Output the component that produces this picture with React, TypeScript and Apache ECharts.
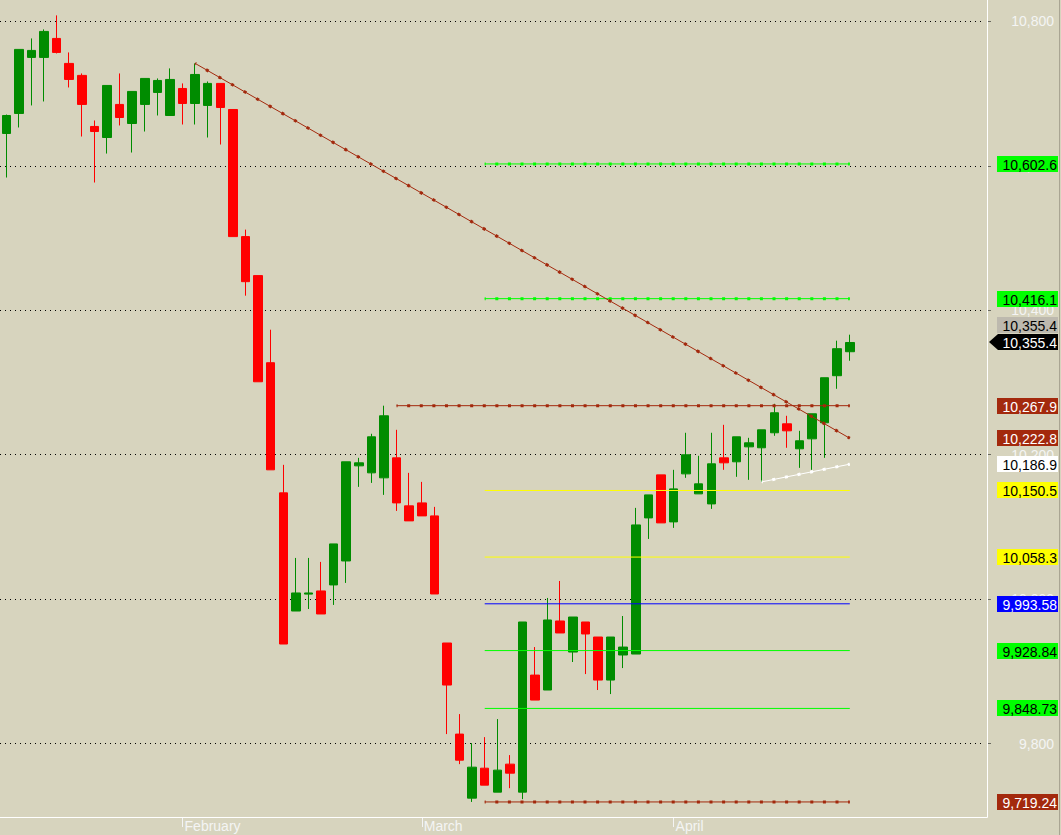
import React, { useEffect, useRef } from "react";
import * as echarts from "echarts";

const monthNames = ["February", "March", "April"];
const monthStartIndex = [14, 33, 53];
const slotCount = 78;
const categories = Array.from({ length: slotCount }, (_, i) => {
  const k = monthStartIndex.indexOf(i);
  return k >= 0 ? monthNames[k] : String(i);
});

const opens = [
  10644.8, 10672.5, 10750.1, 10750.1, 10776.4, 10741.8, 10725.2, 10654.5, 10639.2, 10685.0,
  10658.6, 10685.0, 10701.6, 10669.7, 10707.1, 10686.3, 10683.6, 10714.1, 10678.0, 10502.0,
  10448.0, 10327.4, 10147.2, 9983.6, 10007.0, 10011.4, 10019.7, 10052.9, 10184.6, 10174.9,
  10168.0, 10195.7, 10129.2, 10133.3, 10115.3, 9939.3, 9813.2, 9724.5, 9766.0, 9732.8,
  9771.6, 9732.8, 9894.9, 9874.2, 9969.8, 9926.8, 9968.4, 9947.6, 9888.0, 9922.7,
  9924.0, 10112.5, 10172.1, 10107.0, 10173.5, 10145.8, 10131.9, 10195.7, 10190.2, 10210.9,
  10209.6, 10230.4, 10242.8, 10208.2, 10222.0, 10244.2, 10309.4, 10342.6,
];
const closes = [
  10669.7, 10761.2, 10759.8, 10786.1, 10757.0, 10719.6, 10685.0, 10647.5, 10711.3, 10666.9,
  10703.0, 10721.0, 10718.2, 10719.6, 10686.3, 10726.5, 10714.1, 10680.8, 10502.0, 10439.6,
  10301.0, 10179.1, 9937.9, 10008.6, 10008.6, 9979.5, 10076.5, 10190.2, 10188.8, 10224.8,
  10253.9, 10133.3, 10108.4, 10115.3, 10007.2, 9881.1, 9777.1, 9767.4, 9742.5, 9763.3,
  9759.1, 9968.4, 9860.3, 9971.2, 9953.2, 9975.3, 9951.8, 9888.0, 9947.6, 9933.7,
  10102.8, 10144.4, 10105.6, 10152.7, 10199.9, 10159.7, 10187.4, 10188.8, 10224.8, 10216.5,
  10234.5, 10258.1, 10233.1, 10219.3, 10256.7, 10306.6, 10346.8, 10355.4,
];
const lows = [
  10583.8, 10653.1, 10683.6, 10689.1, 10755.6, 10708.5, 10640.6, 10576.9, 10617.0, 10655.9,
  10618.4, 10647.5, 10669.7, 10669.7, 10657.2, 10657.2, 10639.2, 10629.5, 10502.0, 10420.2,
  10301.0, 10179.1, 9937.9, 9983.6, 9986.4, 9979.5, 9992.0, 10022.5, 10155.5, 10161.0,
  10144.4, 10122.2, 10108.4, 10115.3, 10007.2, 9813.2, 9771.6, 9719.24, 9742.5, 9732.8,
  9738.3, 9723.1, 9860.3, 9874.2, 9953.2, 9913.0, 9896.3, 9874.2, 9868.6, 9904.6,
  9924.0, 10083.4, 10105.6, 10098.7, 10168.0, 10145.8, 10125.0, 10179.1, 10169.4, 10165.2,
  10162.4, 10226.2, 10209.6, 10181.8, 10179.1, 10195.7, 10291.3, 10330.1,
];
const highs = [
  10671.0, 10761.2, 10776.4, 10788.9, 10808.3, 10757.0, 10727.9, 10662.8, 10711.3, 10727.9,
  10703.0, 10721.0, 10721.0, 10734.9, 10714.1, 10741.8, 10716.8, 10714.1, 10678.0, 10511.7,
  10448.0, 10373.1, 10186.0, 10057.1, 10057.1, 10051.6, 10076.5, 10190.2, 10195.7, 10229.0,
  10267.9, 10234.5, 10174.9, 10162.4, 10127.8, 9939.3, 9840.9, 9800.7, 9809.0, 9834.0,
  9784.1, 9968.4, 9933.7, 10001.7, 10025.2, 9975.3, 9968.4, 9947.6, 9947.6, 9976.7,
  10126.4, 10144.4, 10172.1, 10179.1, 10230.4, 10198.5, 10230.4, 10241.4, 10224.8, 10223.4,
  10234.5, 10270.5, 10253.9, 10233.1, 10256.7, 10306.6, 10357.9, 10366.2,
];

const gridValues = [9800, 10000, 10200, 10400, 10600, 10800];
const yMin = 9698.4;
const yMax = 10829.6;

const trendIdx = [15, 67];
const trendVal = [10741.8, 10222.8];
const supportIdx = [60, 67];
const supportVal = [10162.4, 10186.9];

const levelValues = [10602.6, 10416.1, 10267.9, 10150.5, 10058.3, 9993.58, 9928.84, 9848.73, 9719.24];
const levelStartIdx = [38, 38, 31, 38, 38, 38, 38, 38, 38];
const levelEndIdx = 67;

const DARKRED = "#A3290D";
const GREEN = "#00FF00";
const YELLOW = "#FFFF00";
const BLUE = "#0000FF";
const levelColors = [GREEN, GREEN, DARKRED, YELLOW, YELLOW, BLUE, GREEN, GREEN, DARKRED];
const levelDotted = [true, true, true, false, false, false, false, false, true];

const FONT = '"Liberation Sans", Arial, sans-serif';

function fmt(v: number) {
  const d = v < 10000 ? 2 : 1;
  return new Intl.NumberFormat("en-US", { minimumFractionDigits: d, maximumFractionDigits: d }).format(v);
}

function lineSeries(idx: number[], val: number[], color: string, dotted: boolean, gap: number) {
  const data = idx.map((x, i) => [x, val[i]]);
  const out: any[] = [
    {
      type: "line",
      data,
      symbol: "none",
      silent: true,
      z: 5,
      lineStyle: { color, width: 1 },
    },
  ];
  if (dotted) {
    out.push({
      type: "line",
      data,
      symbol: "none",
      silent: true,
      z: 6,
      lineStyle: { color, width: 3, type: [3, gap], dashOffset: 1.5, cap: "butt" },
    });
  }
  return out;
}

export default function App() {
  const ref = useRef<HTMLDivElement>(null);
  useEffect(() => {
    if (!ref.current) return;
    const chart = echarts.init(ref.current, null, { renderer: "svg" });
    const isMonth = (i: number) => monthStartIndex.includes(i);
    const series: any[] = [
      {
        type: "candlestick",
        data: opens.map((o, i) => [o, closes[i], lows[i], highs[i]]),
        barWidth: 9,
        z: 2,
        silent: true,
        itemStyle: {
          color: "#008C00",
          color0: "#FF0000",
          borderColor: "#008C00",
          borderColor0: "#FF0000",
          borderWidth: 1,
        },
      },
    ];
    levelValues.forEach((v, k) => {
      series.push(
        ...lineSeries([levelStartIdx[k], levelEndIdx], [v, v], levelColors[k], levelDotted[k], 9.6)
      );
    });
    series.push(...lineSeries(trendIdx, trendVal, DARKRED, true, 11.5));
    series.push(...lineSeries(supportIdx, supportVal, "#FFFFFF", true, 9.85));

    const option: any = {
      animation: false,
      backgroundColor: "#D7D4BE",
      grid: { left: -1, top: 0, width: 983, height: 817 },
      xAxis: {
        type: "category",
        data: categories,
        boundaryGap: true,
        axisLine: { show: false },
        axisTick: {
          show: true,
          alignWithLabel: true,
          interval: (i: number) => isMonth(i),
          length: 10,
          lineStyle: { color: "#F4F4F4" },
        },
        axisLabel: {
          interval: (i: number) => isMonth(i),
          formatter: (v: string) => (monthNames.includes(v) ? v : ""),
          color: "#F4F4F4",
          fontSize: 14,
          fontFamily: FONT,
          align: "left",
          margin: 2,
          padding: [0, 0, 0, 2],
        },
        splitLine: { show: false },
      },
      yAxis: {
        type: "value",
        position: "right",
        offset: 5,
        min: yMin,
        max: yMax,
        axisLine: { show: false },
        axisTick: { show: true, customValues: gridValues, length: 4, lineStyle: { color: "#6A6A60" } },
        axisLabel: {
          customValues: gridValues,
          formatter: (v: number) => new Intl.NumberFormat("en-US").format(v),
          color: "#F4F4F4",
          fontSize: 14,
          fontFamily: FONT,
          align: "right",
          margin: 67,
        },
        splitLine: { show: true, lineStyle: { color: "#000000", width: 1, type: [1, 4] } },
      },
      series,
    };
    chart.setOption(option);

    const lastClose = closes[closes.length - 1];
    const tags = [
      { v: levelValues[0], bg: GREEN, fg: "#000000", dy: 0 },
      { v: levelValues[1], bg: GREEN, fg: "#000000", dy: 0 },
      { v: lastClose, bg: "#BDB9AE", fg: "#000000", dy: -17 },
      { v: lastClose, bg: "#000000", fg: "#FFFFFF", dy: 0, arrow: true },
      { v: levelValues[2], bg: DARKRED, fg: "#FFFFFF", dy: 0 },
      { v: trendVal[1], bg: DARKRED, fg: "#FFFFFF", dy: 0 },
      { v: supportVal[1], bg: "#FFFFFF", fg: "#000000", dy: 0 },
      { v: levelValues[3], bg: YELLOW, fg: "#000000", dy: 0 },
      { v: levelValues[4], bg: YELLOW, fg: "#000000", dy: 0 },
      { v: levelValues[5], bg: BLUE, fg: "#FFFFFF", dy: 0 },
      { v: levelValues[6], bg: GREEN, fg: "#000000", dy: 0 },
      { v: levelValues[7], bg: GREEN, fg: "#000000", dy: 0 },
      { v: levelValues[8], bg: DARKRED, fg: "#FFFFFF", dy: 0 },
    ];
    const elements: any[] = [
      { type: "line", shape: { x1: 987.5, y1: 0, x2: 987.5, y2: 817.5 }, style: { stroke: "#FFFFFF", lineWidth: 1 }, z: 50 },
      { type: "line", shape: { x1: 0, y1: 817.5, x2: 987.5, y2: 817.5 }, style: { stroke: "#FFFFFF", lineWidth: 1 }, z: 50 },
      { type: "line", shape: { x1: 1059.5, y1: 0, x2: 1059.5, y2: 835 }, style: { stroke: "#A9A593", lineWidth: 1 }, z: 50 },
    ];
    tags.forEach((t: any) => {
      const y = Math.round((chart.convertToPixel({ yAxisIndex: 0 }, t.v) as number) + t.dy);
      if (t.arrow) {
        elements.push({
          type: "polygon",
          shape: { points: [[989, y], [998, y - 8], [1058, y - 8], [1058, y + 8], [998, y + 8]] },
          style: { fill: t.bg },
          z: 100,
        });
      } else {
        elements.push({ type: "rect", shape: { x: 997, y: y - 8, width: 61, height: 16 }, style: { fill: t.bg }, z: 100 });
      }
      elements.push({
        type: "text",
        x: 1057,
        y: y + 0.5,
        style: { text: fmt(t.v), fill: t.fg, font: `14px ${FONT}`, align: "right", verticalAlign: "middle" },
        z: 101,
      });
    });
    chart.setOption({ graphic: { elements } });

    return () => chart.dispose();
  }, []);
  return <div ref={ref} style={{ position: "fixed", left: 0, top: 0, width: 1061, height: 835 }} />;
}
